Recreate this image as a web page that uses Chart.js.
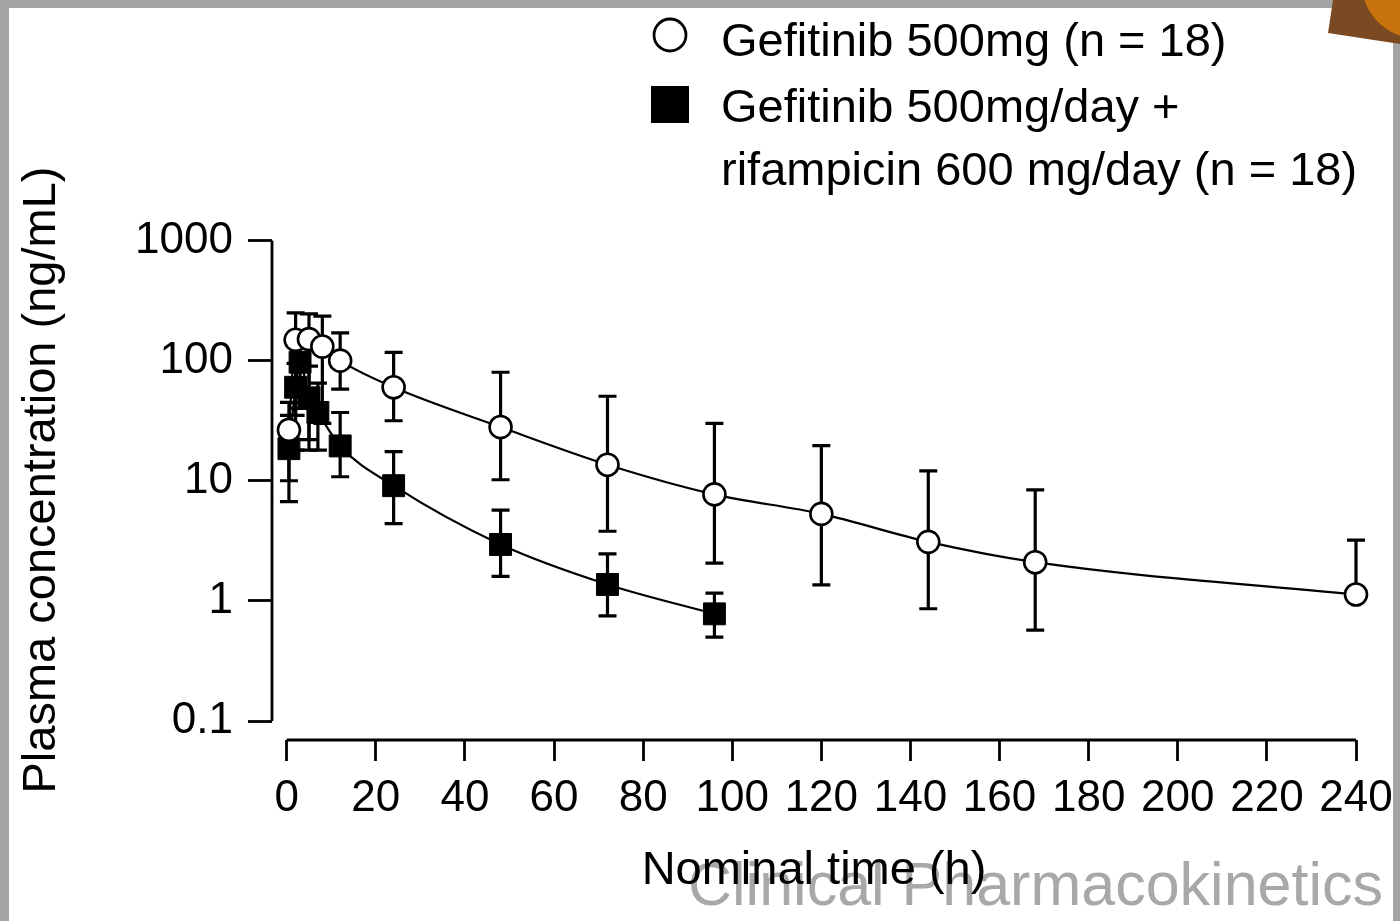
<!DOCTYPE html>
<html>
<head>
<meta charset="utf-8">
<script src="https://cdn.jsdelivr.net/npm/chart.js@4.4.0/dist/chart.umd.min.js"></script>
<style>
  html, body { margin: 0; padding: 0; }
  body { width: 1400px; height: 921px; background: #a3a3a3; position: relative; overflow: hidden; }
  #paper { position: absolute; left: 9px; top: 8px; width: 1384px; height: 913px; background: #fff; }
  #corner { position: absolute; left: 1326px; top: 0; width: 74px; height: 45px;
    background: radial-gradient(circle at 92px -18px, #c8730f 0 56px, #7b4a22 57px);
    clip-path: polygon(7px 0, 74px 0, 74px 44px, 2px 33px); }
  canvas { position: absolute; left: 0; top: 0; }
</style>
</head>
<body>
<div id="paper"></div>
<canvas id="pkChart" width="1400" height="921"></canvas>
<div id="corner"></div>
<script>
// Gefitinib 500 mg alone (open circles)
const timeAlone = [0.5, 2, 5, 8, 12, 24, 48, 72, 96, 120, 144, 168, 240];
const concAlone = [26.5, 149, 151, 131, 100, 60, 28, 13.6, 7.7, 5.3, 3.1, 2.1, 1.13];
const upperAlone = [45, 250, 245, 235, 170, 117, 80, 50.5, 30, 19.6, 12.1, 8.4, 3.2];
const lowerAlone = [10, 18, 18, 30, 58, 31.6, 10.2, 3.8, 2.06, 1.36, 0.86, 0.57, 1.13];

// Gefitinib + rifampicin (filled squares)
const timeRif = [0.5, 2, 3, 5, 7, 12, 24, 48, 72, 96];
const concRif = [18.5, 60, 97, 49, 37, 19.5, 9.1, 2.95, 1.37, 0.78];
const upperRif = [35, 95, 150, 90, 65, 37, 17.5, 5.7, 2.46, 1.16];
const lowerRif = [6.7, 35, 40, 22, 18, 10.8, 4.4, 1.6, 0.75, 0.5];

// Axes
const xTicks = [0, 20, 40, 60, 80, 100, 120, 140, 160, 180, 200, 220, 240];
const yTicks = [0.1, 1, 10, 100, 1000];
const yTickLabels = ["0.1", "1", "10", "100", "1000"];
const yTitle = "Plasma concentration (ng/mL)";

const labelAlone = ["Gefitinib 500mg (n = 18)"];
const labelRif = ["Gefitinib 500mg/day +", "rifampicin 600 mg/day (n = 18)"];

const FONT = '"Liberation Sans", Arial, Helvetica, sans-serif';

// error bars (drawn under the lines and markers)
const errorBars = {
  id: "errorBars",
  beforeDatasetsDraw(chart) {
    const { ctx, scales: { x, y } } = chart;
    ctx.save();
    ctx.strokeStyle = "#000";
    ctx.lineWidth = 3.2;
    chart.data.datasets.forEach(ds => {
      ds.data.forEach((p, i) => {
        const px = x.getPixelForValue(p.x);
        const py = y.getPixelForValue(p.y);
        const top = y.getPixelForValue(ds.upper[i]);
        const bot = y.getPixelForValue(ds.lower[i]);
        ctx.beginPath();
        ctx.moveTo(px, top); ctx.lineTo(px, bot);
        if (top < py - 1) { ctx.moveTo(px - 9, top); ctx.lineTo(px + 9, top); }
        if (bot > py + 1) { ctx.moveTo(px - 9, bot); ctx.lineTo(px + 9, bot); }
        ctx.stroke();
      });
    });
    ctx.restore();
  }
};

// detached axis lines, y title, watermark, legend
const decor = {
  id: "decor",
  beforeDraw(chart) {
    const ctx = chart.ctx;
    ctx.save();
    ctx.font = "61px " + FONT;
    ctx.fillStyle = "#a8a8a8";
    ctx.textBaseline = "alphabetic";
    ctx.fillText("Clinical Pharmacokinetics", 688, 905);
    ctx.restore();
  },
  afterDraw(chart) {
    const { ctx, scales: { x, y }, chartArea } = chart;
    ctx.save();
    ctx.strokeStyle = "#000";
    ctx.lineWidth = 2.8;
    ctx.beginPath();
    ctx.moveTo(x.getPixelForValue(xTicks[0]), chartArea.bottom);
    ctx.lineTo(x.getPixelForValue(xTicks[xTicks.length - 1]), chartArea.bottom);
    ctx.moveTo(chartArea.left, y.getPixelForValue(yTicks[0]));
    ctx.lineTo(chartArea.left, y.getPixelForValue(yTicks[yTicks.length - 1]));
    ctx.stroke();

    // y axis title
    ctx.save();
    ctx.translate(42, 480);
    ctx.rotate(-Math.PI / 2);
    ctx.font = "47px " + FONT;
    ctx.fillStyle = "#000";
    ctx.textAlign = "center";
    ctx.textBaseline = "middle";
    ctx.fillText(yTitle, 0, 0);
    ctx.restore();

    // legend
    ctx.lineWidth = 2.8;
    ctx.beginPath();
    ctx.arc(670, 35, 16, 0, Math.PI * 2);
    ctx.fillStyle = "#fff";
    ctx.fill();
    ctx.stroke();
    ctx.fillStyle = "#000";
    ctx.fillRect(651, 86, 38, 37);
    ctx.font = "47px " + FONT;
    ctx.textBaseline = "alphabetic";
    ctx.fillText(labelAlone[0], 721, 56);
    ctx.fillText(labelRif[0], 721, 121.5);
    ctx.fillText(labelRif[1], 721, 184.5);
    ctx.restore();
  }
};

new Chart(document.getElementById("pkChart"), {
  type: "line",
  data: {
    datasets: [
      {
        label: labelAlone.join(" "),
        data: timeAlone.map((t, i) => ({ x: t, y: concAlone[i] })),
        upper: upperAlone,
        lower: lowerAlone,
        borderColor: "#000",
        borderWidth: 2.2,
        pointStyle: "circle",
        pointRadius: 11,
        pointBorderWidth: 2.6,
        pointBackgroundColor: "#fff",
        pointBorderColor: "#000",
        cubicInterpolationMode: "monotone",
        clip: false
      },
      {
        label: labelRif.join(" "),
        data: timeRif.map((t, i) => ({ x: t, y: concRif[i] })),
        upper: upperRif,
        lower: lowerRif,
        borderColor: "#000",
        borderWidth: 2.2,
        pointStyle: "rect",
        pointRadius: 15.5,
        pointBorderWidth: 1,
        pointBackgroundColor: "#000",
        pointBorderColor: "#000",
        cubicInterpolationMode: "monotone",
        clip: false
      }
    ]
  },
  options: {
    responsive: false,
    animation: false,
    events: [],
    layout: { padding: { left: 0, top: 240.5, right: 44, bottom: 0 } },
    plugins: { legend: { display: false }, tooltip: { enabled: false } },
    scales: {
      x: {
        type: "linear",
        min: -3.3,
        max: 240,
        bounds: "data",
        afterBuildTicks: s => { s.ticks = xTicks.map(v => ({ value: v })); },
        afterFit: s => { s.height = 181; s.paddingLeft = 0; s.paddingRight = 0; },
        grid: { display: true, drawOnChartArea: false, drawTicks: true, tickLength: 21, tickWidth: 2.8, tickColor: "#000" },
        border: { display: false },
        ticks: { autoSkip: false, maxRotation: 0, color: "#000", padding: 11, font: { family: FONT, size: 44 } },
        title: { display: true, text: "Nominal time (h)", color: "#000", font: { family: FONT, size: 47 }, padding: { top: 0, bottom: 22 } }
      },
      y: {
        type: "logarithmic",
        min: 0.0695,
        max: 1000,
        bounds: "data",
        afterBuildTicks: s => { s.ticks = yTicks.map(v => ({ value: v })); },
        afterFit: s => { s.width = 272; s.paddingTop = 0; s.paddingBottom = 0; },
        grid: { display: true, drawOnChartArea: false, drawTicks: true, tickLength: 24, tickWidth: 2.8, tickColor: "#000" },
        border: { display: false },
        ticks: {
          color: "#000", padding: 15, font: { family: FONT, size: 44 },
          callback: v => yTickLabels[yTicks.indexOf(v)] ?? ""
        },
        title: { display: false }
      }
    }
  },
  plugins: [errorBars, decor]
});
</script>
</body>
</html>
